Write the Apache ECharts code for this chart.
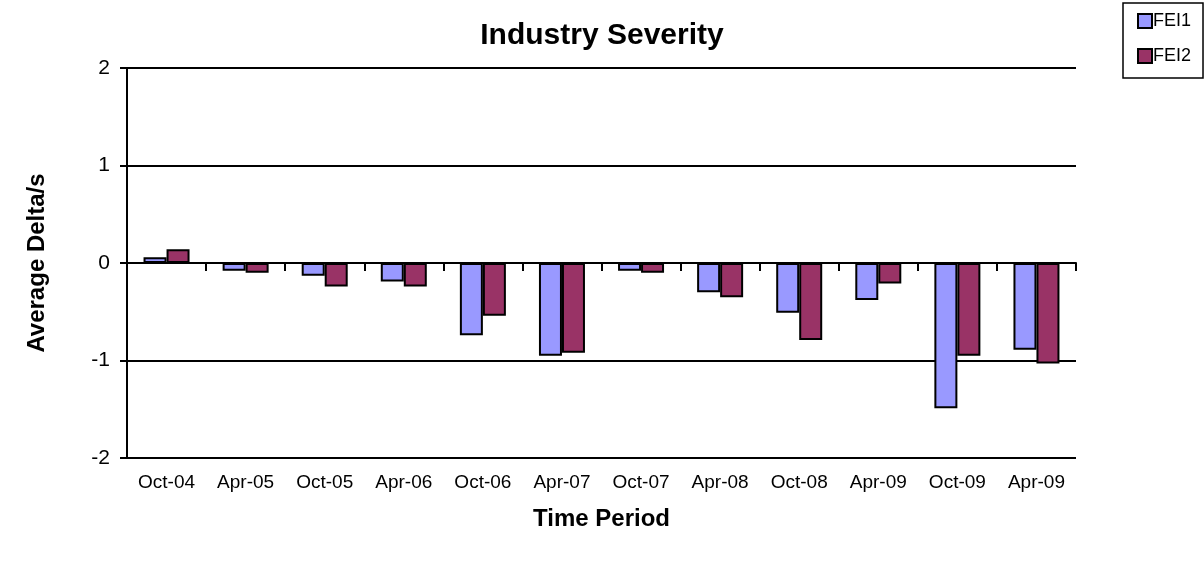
<!DOCTYPE html>
<html>
<head>
    <meta charset="utf-8">
    <style>
        html, body { margin: 0; padding: 0; background: #fff; }
        #chart { width: 1204px; height: 569px; }
    </style>
</head>
<body>
<div id="chart"></div>
<script src="https://cdn.jsdelivr.net/npm/echarts@6/dist/echarts.min.js"></script>
<script>
// time periods
var periods = ['Oct-04', 'Apr-05', 'Oct-05', 'Apr-06', 'Oct-06', 'Apr-07', 'Oct-07', 'Apr-08', 'Oct-08', 'Apr-09', 'Oct-09', 'Apr-09'];
// FEI1
var fei1 = [0.06, -0.08, -0.13, -0.19, -0.74, -0.95, -0.08, -0.30, -0.51, -0.38, -1.49, -0.89];
// FEI2
var fei2 = [0.14, -0.10, -0.24, -0.24, -0.54, -0.92, -0.10, -0.35, -0.79, -0.21, -0.95, -1.03];

var font = 'Arial, "Liberation Sans", sans-serif';
var chart = echarts.init(document.getElementById('chart'));

var option = {
    animation: false,
    backgroundColor: '#fff',
    textStyle: { fontFamily: font, color: '#000' },
    title: {
        text: 'Industry Severity',
        left: 'center',
        top: 16,
        textStyle: { fontFamily: font, fontSize: 30, fontWeight: 'bold', color: '#000' }
    },
    legend: {
        orient: 'vertical',
        left: 1123,
        top: 3,
        padding: [9, 12, 13, 14],
        icon: 'rect',
        itemWidth: 14,
        itemHeight: 14,
        itemGap: 17,
        borderColor: '#000',
        borderWidth: 1.5,
        textStyle: { fontFamily: font, fontSize: 18, color: '#000', padding: [0, 0, 0, -4] },
        data: ['FEI1', 'FEI2']
    },
    grid: {
        left: 127,
        right: 128,
        top: 68,
        bottom: 111
    },
    xAxis: [{
        type: 'category',
        position: 'bottom',
        data: periods,
        name: 'Time Period',
        nameLocation: 'middle',
        nameGap: 49,
        nameTextStyle: { fontFamily: font, fontSize: 24, fontWeight: 'bold', color: '#000' },
        axisLine: { show: false, onZero: false },
        axisTick: { show: false },
        axisLabel: { fontFamily: font, fontSize: 19, color: '#000', margin: 15 }
    }, {
        type: 'category',
        position: 'bottom',
        data: periods,
        axisLine: { onZero: true, lineStyle: { color: '#000', width: 2 } },
        axisTick: { show: true, length: 8, lineStyle: { color: '#000', width: 2 } },
        axisLabel: { show: false }
    }],
    yAxis: {
        type: 'value',
        min: -2,
        max: 2,
        interval: 1,
        name: 'Average Delta/s',
        nameLocation: 'middle',
        nameGap: 78,
        nameTextStyle: { fontFamily: font, fontSize: 24, fontWeight: 'bold', color: '#000' },
        axisLine: { show: true, lineStyle: { color: '#000', width: 2 } },
        axisTick: { show: true, length: 7, lineStyle: { color: '#000', width: 2 } },
        axisLabel: { fontFamily: font, fontSize: 21, color: '#000', margin: 17 },
        splitLine: { show: true, lineStyle: { color: '#000', width: 2 } }
    },
    series: [{
        name: 'FEI1',
        type: 'bar',
        data: fei1,
        barWidth: 23,
        barGap: '0%',
        itemStyle: { color: '#9999FF', borderColor: '#000', borderWidth: 2 }
    }, {
        name: 'FEI2',
        type: 'bar',
        data: fei2,
        barWidth: 23,
        barGap: '0%',
        itemStyle: { color: '#993366', borderColor: '#000', borderWidth: 2 }
    }]
};
chart.setOption(option);
</script>
</body>
</html>
